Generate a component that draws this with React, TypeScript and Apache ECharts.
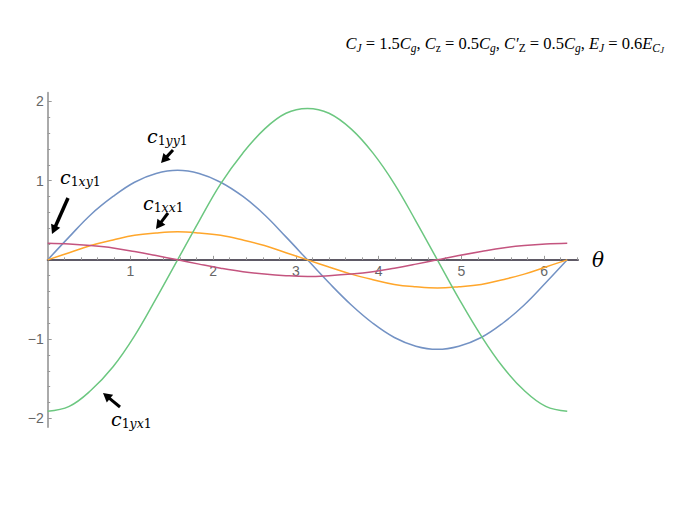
import React, { useEffect, useRef } from 'react';
import * as echarts from 'echarts';

const thetaValues = [0, 0.26, 0.52, 0.79, 1.05, 1.31, 1.57, 1.83, 2.09, 2.36, 2.62, 2.88, 3.14, 3.4, 3.67, 3.93, 4.19, 4.45, 4.71, 4.97, 5.24, 5.5, 5.76, 6.02, 6.28];
const c1yy1 = [0, 0.29, 0.57, 0.8, 0.98, 1.09, 1.13, 1.09, 0.98, 0.8, 0.57, 0.29, 0, -0.29, -0.57, -0.8, -0.98, -1.09, -1.13, -1.09, -0.98, -0.8, -0.57, -0.29, 0];
const c1xx1 = [0, 0.09, 0.18, 0.25, 0.31, 0.34, 0.355, 0.34, 0.31, 0.25, 0.18, 0.09, 0, -0.09, -0.18, -0.25, -0.31, -0.34, -0.355, -0.34, -0.31, -0.25, -0.18, -0.09, 0];
const c1yx1 = [-1.91, -1.85, -1.65, -1.35, -0.96, -0.49, 0, 0.49, 0.96, 1.35, 1.65, 1.85, 1.91, 1.85, 1.65, 1.35, 0.96, 0.49, 0, -0.49, -0.96, -1.35, -1.65, -1.85, -1.91];
const c1xy1 = [0.21, 0.2, 0.18, 0.15, 0.105, 0.054, 0, -0.054, -0.105, -0.15, -0.18, -0.2, -0.21, -0.2, -0.18, -0.15, -0.105, -0.054, 0, 0.054, 0.105, 0.15, 0.18, 0.2, 0.21];

const xTickValues = [1, 2, 3, 4, 5, 6];
const xMinorTicks = [0.2, 0.4, 0.6, 0.8, 1.2, 1.4, 1.6, 1.8, 2.2, 2.4, 2.6, 2.8, 3.2, 3.4, 3.6, 3.8, 4.2, 4.4, 4.6, 4.8, 5.2, 5.4, 5.6, 5.8, 6.2, 6.4];
const yTickValues = [-2, -1, 1, 2];
const yMinorTicks = [-1.8, -1.6, -1.4, -1.2, -0.8, -0.6, -0.4, -0.2, 0.2, 0.4, 0.6, 0.8, 1.2, 1.4, 1.6, 1.8];

const SERIF = '"DejaVu Serif", "Liberation Serif", serif';
const TSERIF = '"Liberation Serif", "DejaVu Serif", serif';
const SANS = '"Liberation Sans", Arial, sans-serif';

const X_MIN = 0, X_MAX = 6.41, Y_MIN = -2.11, Y_MAX = 2.11;
const G_LEFT = 47.7, G_RIGHT = 114, G_TOP = 92.7, G_BOTTOM = 92;

function arrow(x1: number, y1: number, x2: number, y2: number, w: number) {
  const dx = x2 - x1, dy = y2 - y1;
  const L = Math.hypot(dx, dy);
  const ux = dx / L, uy = dy / L;
  const h = 9, hw = 5;
  const bx = x2 - ux * h, by = y2 - uy * h;
  const nx = -uy, ny = ux;
  return [
    { type: 'line', shape: { x1, y1, x2: bx + ux, y2: by + uy }, style: { stroke: '#000', lineWidth: w } },
    { type: 'polygon', shape: { points: [[x2, y2], [bx + nx * hw, by + ny * hw], [bx - nx * hw, by - ny * hw]] }, style: { fill: '#000' } },
  ];
}

function coefLabel(x: number, y: number, sub: string) {
  const parts = sub.split('').map((ch) => (/[0-9]/.test(ch) ? `{n|${ch}}` : `{s|${ch}}`)).join('');
  return {
    type: 'text',
    x, y,
    style: {
      text: `{c|c}${parts}`,
      verticalAlign: 'middle',
      rich: {
        c: { fontFamily: SERIF, fontStyle: 'italic', fontSize: 19, lineHeight: 22, fill: '#000' },
        s: { fontFamily: SERIF, fontStyle: 'italic', fontSize: 12.5, lineHeight: 10, verticalAlign: 'bottom', fill: '#000' },
        n: { fontFamily: SERIF, fontSize: 12.5, lineHeight: 10, verticalAlign: 'bottom', fill: '#000' },
      },
    },
  };
}

const App: React.FC = () => {
  const ref = useRef<HTMLDivElement>(null);
  useEffect(() => {
    if (!ref.current) return;
    const chart = echarts.init(ref.current, undefined, { renderer: 'svg' });
    const mk = (arr: number[]) => thetaValues.map((t, i) => [t, arr[i]]);
    const lineSeries = (name: string, arr: number[], color: string) => ({
      name,
      type: 'line',
      data: mk(arr),
      smooth: 0.4,
      showSymbol: false,
      xAxisIndex: 0,
      yAxisIndex: 0,
      lineStyle: { color, width: 1.5 },
      itemStyle: { color },
    });
    const tickColor = '#999';
    const labelColor = '#666666';
    const plotH = 519 - G_TOP - G_BOTTOM;
    const zeroY = G_TOP + (Y_MAX / (Y_MAX - Y_MIN)) * plotH;
    chart.setOption({
      animation: false,
      backgroundColor: '#fff',
      grid: [
        { left: G_LEFT, right: G_RIGHT, top: G_TOP, bottom: G_BOTTOM, containLabel: false },
        { left: G_LEFT, right: G_RIGHT, top: G_TOP, bottom: 519 - zeroY, containLabel: false },
      ],
      xAxis: [
        {
          type: 'value', min: X_MIN, max: X_MAX, gridIndex: 0, position: 'bottom',
          axisLine: { show: false }, axisTick: { show: false }, axisLabel: { show: false }, splitLine: { show: false },
        },
        {
          type: 'value', min: X_MIN, max: X_MAX, gridIndex: 1, position: 'bottom',
          axisLine: { show: true, onZero: false, lineStyle: { color: '#5f5a66', width: 2 } },
          axisTick: { show: true, inside: true, length: 4, customValues: xTickValues, lineStyle: { color: tickColor } },
          axisLabel: { show: true, customValues: xTickValues, color: labelColor, fontSize: 14, margin: 4, fontFamily: SANS },
          splitLine: { show: false },
        },
        {
          type: 'value', min: X_MIN, max: X_MAX, gridIndex: 1, position: 'bottom',
          axisLine: { show: false, onZero: false },
          axisTick: { show: true, inside: true, length: 2.5, customValues: xMinorTicks, lineStyle: { color: tickColor } },
          axisLabel: { show: false },
          splitLine: { show: false },
        },
      ],
      yAxis: [
        {
          type: 'value', min: Y_MIN, max: Y_MAX, gridIndex: 0, position: 'left',
          axisLine: { show: true, onZero: false, lineStyle: { color: '#aaaaaa', width: 2 } },
          axisTick: { show: true, inside: true, length: 4, customValues: yTickValues, lineStyle: { color: tickColor } },
          axisLabel: {
            show: true, customValues: yTickValues, color: labelColor, fontSize: 14, margin: 4,
            fontFamily: SANS,
            formatter: (v: number) => (v < 0 ? '\u2212' + Math.abs(v) : String(v)),
          },
          splitLine: { show: false },
        },
        {
          type: 'value', min: Y_MIN, max: Y_MAX, gridIndex: 0, position: 'left',
          axisLine: { show: false, onZero: false },
          axisTick: { show: true, inside: true, length: 2.5, customValues: yMinorTicks, lineStyle: { color: tickColor } },
          axisLabel: { show: false },
          splitLine: { show: false },
        },
        {
          type: 'value', min: 0, max: Y_MAX, gridIndex: 1, show: false,
        },
      ],
      series: [
        lineSeries('c1yy1', c1yy1, '#7392c4'),
        lineSeries('c1xx1', c1xx1, '#ffa62b'),
        lineSeries('c1yx1', c1yx1, '#6cc780'),
        lineSeries('c1xy1', c1xy1, '#c4547f'),
      ],
      graphic: [
        {
          type: 'text', x: 664, y: 43,
          style: {
            align: 'right',
            verticalAlign: 'middle',
            text: '{i|C}{s|J}{r| = 1.5}{i|C}{s|g}{r|, }{i|C}{sr|z}{r| = 0.5}{i|C}{s|g}{r|, }{i|C\u2032}{sr|Z}{r| = 0.5}{i|C}{s|g}{r|, }{i|E}{s|J}{r| = 0.6}{i|E}{s|C}{ss|J}',
            rich: {
              i: { fontFamily: TSERIF, fontStyle: 'italic', fontSize: 16.5, lineHeight: 22, fill: '#000' },
              r: { fontFamily: TSERIF, fontSize: 16.5, lineHeight: 22, fill: '#000' },
              s: { fontFamily: TSERIF, fontStyle: 'italic', fontSize: 11.5, lineHeight: 10, verticalAlign: 'bottom', fill: '#000' },
              sr: { fontFamily: TSERIF, fontSize: 11.5, lineHeight: 10, verticalAlign: 'bottom', fill: '#000' },
              ss: { fontFamily: TSERIF, fontStyle: 'italic', fontSize: 9, lineHeight: 4, verticalAlign: 'bottom', fill: '#000' },
            },
          },
        },
        {
          type: 'text', x: 592, y: 260,
          style: { text: '\u03b8', fontFamily: SERIF, fontStyle: 'italic', fontSize: 20, fill: '#000', verticalAlign: 'middle' },
        },
        coefLabel(147, 136, '1yy1'),
        coefLabel(60, 177, '1xy1'),
        coefLabel(143, 203, '1xx1'),
        coefLabel(111, 419, '1yx1'),
        ...arrow(173, 150, 161, 163, 3),
        ...arrow(68, 198, 52, 234, 3.5),
        ...arrow(168, 213, 156, 229, 3),
        ...arrow(120, 407, 103, 393, 3),
      ],
    });
    return () => chart.dispose();
  }, []);
  return <div ref={ref} style={{ position: 'fixed', left: 0, top: 0, width: 692, height: 519, background: '#fff' }} />;
};

export default App;
